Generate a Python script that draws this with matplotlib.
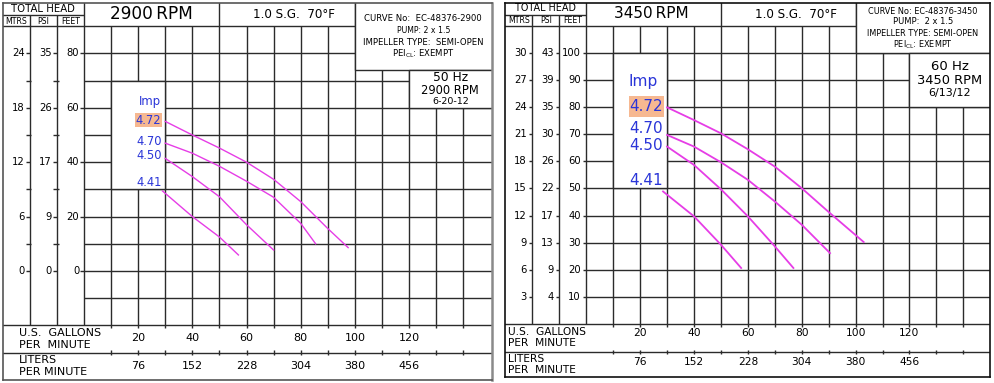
import numpy as np
import matplotlib.pyplot as plt
from matplotlib.patches import Rectangle

plt.rcParams['font.family'] = ['DejaVu Sans']

# head scales: feet value and the matching meters / psi labels
left_ft = [80, 60, 40, 20, 0]
left_m = [24, 18, 12, 6, 0]
left_psi = [35, 26, 17, 9, 0]
left_minor = [70, 50, 30, 10]

right_ft = [100, 90, 80, 70, 60, 50, 40, 30, 20, 10]
right_m = [30, 27, 24, 21, 18, 15, 12, 9, 6, 3]
right_psi = [43, 39, 35, 30, 26, 22, 17, 13, 9, 4]

# flow scales
gpm_labels = [20, 40, 60, 80, 100, 120]
lpm_labels = [76, 152, 228, 304, 380, 456]

imp_labels = ['4.72', '4.70', '4.50', '4.41']

# 2900 RPM curves (gpm, feet)
l472_q = [30, 40, 50, 60, 70, 80, 90, 97.5]
l472_h = [55, 50, 45.2, 40, 33.7, 25.5, 15.6, 8.6]
l470_q = [30, 40, 50, 60, 70, 80, 85.5]
l470_h = [47, 43.3, 38.5, 33, 27.1, 17.5, 10]
l450_q = [30, 40, 50, 60, 70]
l450_h = [41.4, 34.7, 27.3, 17, 7.7]
l441_q = [29, 40, 50, 57]
l441_h = [29.4, 20, 12.5, 5.9]

# 3450 RPM curves (gpm, feet)
r472_q = [30, 40, 50, 60, 70, 80, 90, 103]
r472_h = [80, 75.3, 70.4, 64.5, 58.1, 50.1, 41.3, 30.2]
r470_q = [30, 40, 50, 60, 70, 80, 90.5]
r470_h = [69.8, 65.5, 59.7, 53.2, 45.2, 36.6, 26.1]
r450_q = [30, 40, 50, 60, 70, 76.9]
r450_h = [65.5, 58.7, 49.7, 39.7, 28.6, 20.6]
r441_q = [28.5, 40, 50, 57.5]
r441_h = [48.9, 39.7, 29.2, 20.6]

LC = '#2b2b2b'
LW = 1.0
BLUE = '#2a35d8'
MAG = '#e63de6'
PEACH = '#f6b891'

fig = plt.figure(figsize=(9.95, 3.83), dpi=100)


def panel_axes(x0, y0, x1, y1, xlim, ylim, edge):
    ax = fig.add_axes([x0 / 995, 1 - y1 / 383, (x1 - x0) / 995, (y1 - y0) / 383])
    ax.set_xlim(*xlim)
    ax.set_ylim(*ylim)
    ax.set_xticks([])
    ax.set_yticks([])
    for s in ax.spines.values():
        s.set_color(edge)
        s.set_linewidth(1.2)
    return ax


def frame(ax, g_lo, g_hi, row_mid, top, xmax, info_lo, hz_lo, box_lo, box_hi):
    kw = dict(color=LC, lw=LW, zorder=1)
    qs = np.arange(10, 150, 10)
    ax.vlines(qs, g_lo, g_hi, **kw)
    ax.vlines(qs, g_lo - 1.1, g_lo, **kw)
    ax.vlines(qs, row_mid - 0.8, row_mid + 0.8, **kw)
    ax.vlines(0, g_lo, top + 2, **kw)
    ax.vlines([50, 100], g_hi, top + 2, **kw)
    ax.hlines(np.arange(g_lo + 10, g_hi, 10), 0, xmax + 2, **kw)
    ax.hlines([g_lo, g_hi, row_mid], -32, xmax + 2, **kw)
    ax.hlines(g_hi + 4.2, -32, 0, **kw)
    ax.vlines([-20, -10], g_lo, g_hi + 4.2, **kw)
    ax.add_patch(Rectangle((100, info_lo), xmax - 98, top - info_lo + 2,
                           fc='white', ec=LC, lw=LW, zorder=2))
    ax.add_patch(Rectangle((120, hz_lo), xmax - 118, info_lo - hz_lo,
                           fc='white', ec=LC, lw=LW, zorder=2))
    ax.add_patch(Rectangle((10, box_lo), 20, box_hi - box_lo,
                           fc='white', ec=LC, lw=LW, zorder=2))


def head_labels(ax, ft, m, psi, gap, fs):
    for f, a, b in zip(ft, m, psi):
        for c, s in zip((-20, -10, 0), (a, b, f)):
            ax.text(c - gap, f, str(s), ha='right', va='center', fontsize=fs, zorder=4)
            ax.hlines(f, c - 1.4, c, color=LC, lw=LW, zorder=1)


def flow_labels(ax, y_g, y_l, fs):
    for q, l in zip(gpm_labels, lpm_labels):
        ax.text(q, y_g, str(q), ha='center', va='center', fontsize=fs, zorder=4)
        ax.text(q, y_l, str(l), ha='center', va='center', fontsize=fs, zorder=4)


# ---------------- left panel : 2900 RPM ----------------
axL = panel_axes(3, 3, 492, 380, (-29.9, 150.6), (-40.07, 98.53), '#555555')
axL.spines['right'].set_color('#8a8a8a')
axL.spines['right'].set_linewidth(1.8)
frame(axL, -20, 90, -30, 98.53, 150.6, 74, 60, 30, 70)
head_labels(axL, left_ft, left_m, left_psi, 1.8, 7.2)
axL.hlines(left_minor, -21.3, -19.4, color=LC, lw=LW)
axL.hlines(left_minor, -11.3, -9.4, color=LC, lw=LW)

axL.text(-15, 96.2, 'TOTAL HEAD', ha='center', va='center', fontsize=7.3)
for x, s in zip((-25, -15, -5), ('MTRS', 'PSI', 'FEET')):
    axL.text(x, 91.9, s, ha='center', va='center', fontsize=5.7)
axL.text(25, 94.4, '2900\u2009RPM', ha='center', va='center', fontsize=12.2)
axL.text(77.5, 94.4, '1.0 S.G.  70\u00b0F', ha='center', va='center', fontsize=8.6)
axL.text(125.2, 93.0, 'CURVE No:  EC-48376-2900', ha='center', va='center', fontsize=6.1, zorder=4)
axL.text(125.2, 88.6, 'PUMP: 2 x 1.5', ha='center', va='center', fontsize=5.6, zorder=4)
axL.text(125.2, 84.0, 'IMPELLER TYPE:  SEMI-OPEN', ha='center', va='center', fontsize=6.1, zorder=4)
axL.text(125.2, 79.8, r'PEI$_{\mathregular{CL}}$: EXEMPT', ha='center', va='center', fontsize=6.1, zorder=4)
axL.text(135.2, 71.1, '50 Hz', ha='center', va='center', fontsize=8.8, zorder=4)
axL.text(135.2, 66.5, '2900 RPM', ha='center', va='center', fontsize=8.3, zorder=4)
axL.text(135.2, 62.4, '6-20-12', ha='center', va='center', fontsize=6.8, zorder=4)

axL.add_patch(Rectangle((18.8, 52.8), 10.1, 5.3, fc=PEACH, ec='none', zorder=3))
axL.text(24.4, 62.5, 'Imp', ha='center', va='center', fontsize=8.4, color=BLUE, zorder=4)
for s, y in zip(imp_labels, (55.5, 47.5, 42.4, 32.6)):
    axL.text(28.6, y, s, ha='right', va='center', fontsize=8.3, color=BLUE, zorder=4)

for q, h in ((l472_q, l472_h), (l470_q, l470_h), (l450_q, l450_h), (l441_q, l441_h)):
    axL.plot(q, h, color=MAG, lw=1.0, zorder=3)

axL.text(-24, -22.8, 'U.S.  GALLONS', ha='left', va='center', fontsize=8)
axL.text(-24, -27.2, 'PER  MINUTE', ha='left', va='center', fontsize=8)
axL.text(-24, -32.7, 'LITERS', ha='left', va='center', fontsize=8)
axL.text(-24, -37.1, 'PER MINUTE', ha='left', va='center', fontsize=8)
flow_labels(axL, -24.6, -34.9, 8)

# ---------------- right panel : 3450 RPM ----------------
axR = panel_axes(505, 3, 990, 377, (-30.19, 149.9), (-19.71, 118.6), '#111111')
frame(axR, 0, 110, -10.35, 118.6, 149.9, 100, 80, 50, 100)
head_labels(axR, right_ft, right_m, right_psi, 2.1, 7.2)

axR.text(-15, 116.6, 'TOTAL HEAD', ha='center', va='center', fontsize=6.9)
for x, s in zip((-25, -15, -5), ('MTRS', 'PSI', 'FEET')):
    axR.text(x, 112.0, s, ha='center', va='center', fontsize=5.7)
axR.text(24, 114.6, '3450\u2009RPM', ha='center', va='center', fontsize=11)
axR.text(77.8, 114.4, '1.0 S.G.  70\u00b0F', ha='center', va='center', fontsize=8.6)
axR.text(125, 115.3, 'CURVE No: EC-48376-3450', ha='center', va='center', fontsize=5.9, zorder=4)
axR.text(125, 111.6, 'PUMP:  2 x 1.5', ha='center', va='center', fontsize=6.0, zorder=4)
axR.text(125, 107.3, 'IMPELLER TYPE: SEMI-OPEN', ha='center', va='center', fontsize=5.9, zorder=4)
axR.text(125, 103.3, r'PEI$_{\mathregular{CL}}$: EXEMPT', ha='center', va='center', fontsize=5.9, zorder=4)
axR.text(135, 95.3, '60 Hz', ha='center', va='center', fontsize=9.5, zorder=4)
axR.text(135, 89.9, '3450 RPM', ha='center', va='center', fontsize=9.4, zorder=4)
axR.text(135, 85.5, '6/13/12', ha='center', va='center', fontsize=8, zorder=4)

axR.add_patch(Rectangle((15.9, 76.6), 13.0, 7.6, fc=PEACH, ec='none', zorder=3))
axR.text(21, 89.6, 'Imp', ha='center', va='center', fontsize=11.2, color=BLUE, zorder=4)
for s, y in zip(imp_labels, (80.3, 72.3, 65.9, 53.0)):
    axR.text(28.5, y, s, ha='right', va='center', fontsize=10.9, color=BLUE, zorder=4)

for q, h in ((r472_q, r472_h), (r470_q, r470_h), (r450_q, r450_h), (r441_q, r441_h)):
    axR.plot(q, h, color=MAG, lw=1.3, zorder=3)

axR.text(-29.1, -2.9, 'U.S.  GALLONS', ha='left', va='center', fontsize=7.7)
axR.text(-29.1, -7.0, 'PER  MINUTE', ha='left', va='center', fontsize=7.7)
axR.text(-29.1, -13.1, 'LITERS', ha='left', va='center', fontsize=7.7)
axR.text(-29.1, -17.3, 'PER  MINUTE', ha='left', va='center', fontsize=7.7)
flow_labels(axR, -3.4, -14.2, 7.7)

fig.savefig('out.png', dpi=100, facecolor='white')
